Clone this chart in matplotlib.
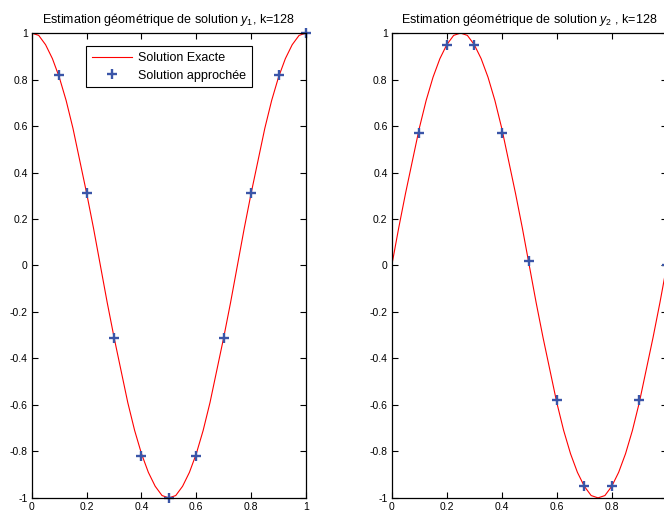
import numpy as np
import matplotlib.pyplot as plt
from matplotlib.ticker import FuncFormatter

plt.rcParams['font.family'] = ['Liberation Sans', 'DejaVu Sans']
plt.rcParams['mathtext.fontset'] = 'custom'
plt.rcParams['mathtext.rm'] = 'Liberation Sans'
plt.rcParams['mathtext.it'] = 'Liberation Sans:italic'
plt.rcParams['axes.unicode_minus'] = False

# courbes exactes (pas de 0.025)
x_curve = [i * 0.025 for i in range(41)]
y1_exact = [1.0, 0.99, 0.95, 0.89, 0.81, 0.71, 0.59, 0.45, 0.31, 0.16, 0.0,
            -0.16, -0.31, -0.45, -0.59, -0.71, -0.81, -0.89, -0.95, -0.99, -1.0,
            -0.99, -0.95, -0.89, -0.81, -0.71, -0.59, -0.45, -0.31, -0.16, 0.0,
            0.16, 0.31, 0.45, 0.59, 0.71, 0.81, 0.89, 0.95, 0.99, 1.0]
y2_exact = [0.0, 0.16, 0.31, 0.45, 0.59, 0.71, 0.81, 0.89, 0.95, 0.99, 1.0,
            0.99, 0.95, 0.89, 0.81, 0.71, 0.59, 0.45, 0.31, 0.16, 0.0,
            -0.16, -0.31, -0.45, -0.59, -0.71, -0.81, -0.89, -0.95, -0.99, -1.0,
            -0.99, -0.95, -0.89, -0.81, -0.71, -0.59, -0.45, -0.31, -0.16, 0.0]

# solutions approchées
x1_app = [0.1, 0.2, 0.3, 0.4, 0.5, 0.6, 0.7, 0.8, 0.9, 1.0]
y1_app = [0.82, 0.31, -0.31, -0.82, -1.0, -0.82, -0.31, 0.31, 0.82, 1.0]
x2_app = [0.1, 0.2, 0.3, 0.4, 0.5, 0.6, 0.7, 0.8, 0.9, 1.0]
y2_app = [0.57, 0.95, 0.95, 0.57, 0.02, -0.58, -0.95, -0.95, -0.58, 0.0]

xticks = [0, 0.2, 0.4, 0.6, 0.8, 1]
yticks = [-1, -0.8, -0.6, -0.4, -0.2, 0, 0.2, 0.4, 0.6, 0.8, 1]

fmt = FuncFormatter(lambda v, p: ('%g' % round(v, 2)))
# le "1" de droite est hors cadre dans l'original
fmt2 = FuncFormatter(lambda v, p: '' if v > 0.99 else ('%g' % round(v, 2)))

fig = plt.figure(figsize=(6.64, 5.17), dpi=100)
ax1 = fig.add_axes([0.048, 0.037, 0.4127, 0.899])
ax2 = fig.add_axes([0.590, 0.037, 0.4142, 0.899])

for ax, yc, xa, ya in [(ax1, y1_exact, x1_app, y1_app),
                       (ax2, y2_exact, x2_app, y2_app)]:
    ax.plot(x_curve, yc, color='red', lw=0.8, label='Solution Exacte')
    ax.plot(xa, ya, ls='none', marker='+', ms=7, mew=1.7, color='#3a55a8',
            label='Solution approchée', clip_on=False)
    ax.set_xlim(0, 1)
    ax.set_ylim(-1, 1)
    ax.set_xticks(xticks)
    ax.set_yticks(yticks)
    ax.xaxis.set_major_formatter(fmt)
    ax.yaxis.set_major_formatter(fmt)
    ax.tick_params(direction='in', top=True, right=True, labelsize=7.5,
                   length=4, width=0.8, pad=3)
    for s in ax.spines.values():
        s.set_linewidth(0.9)

ax2.xaxis.set_major_formatter(fmt2)

ax1.set_title('Estimation géométrique de solution $y_1$, k=128', fontsize=9, pad=7)
ax2.set_title('Estimation géométrique de solution $y_2$ , k=128', fontsize=9, pad=7)

leg = ax1.legend(loc='upper center', bbox_to_anchor=(0.5, 0.985), fontsize=9,
                 frameon=True, fancybox=False, edgecolor='black', framealpha=1,
                 handlelength=3.2, borderpad=0.45, labelspacing=0.45,
                 handletextpad=0.5)
leg.get_frame().set_linewidth(0.8)

fig.savefig('out.png', dpi=100)
